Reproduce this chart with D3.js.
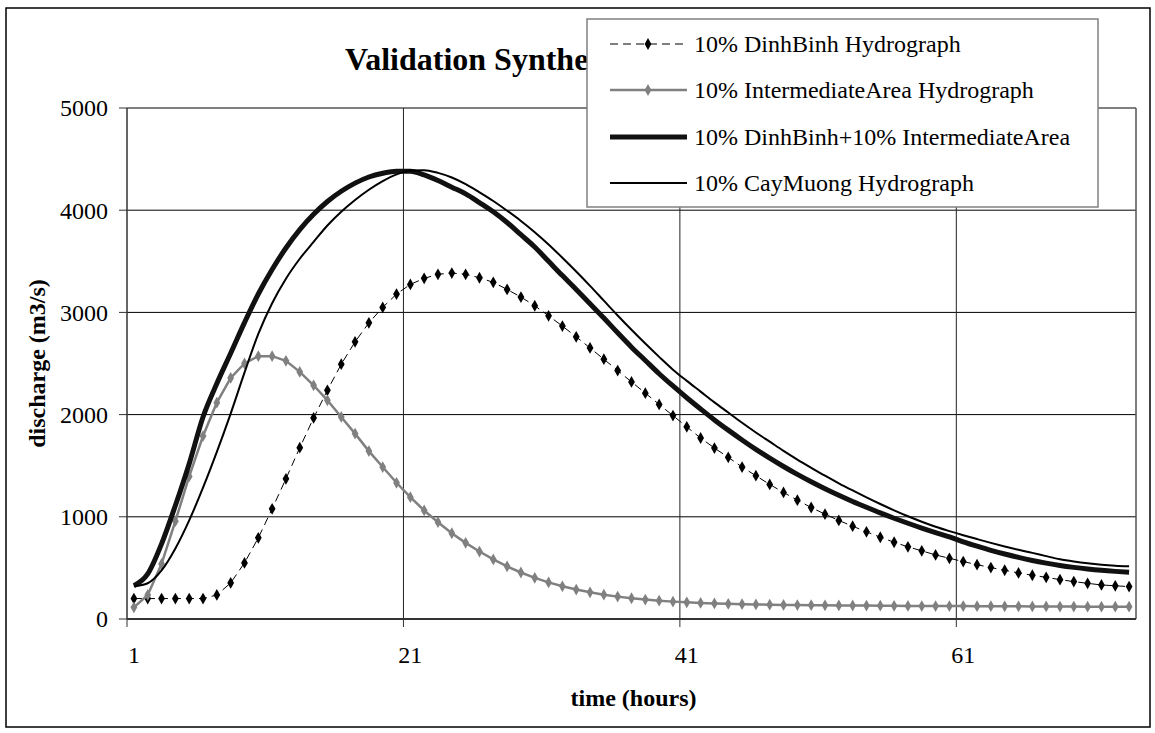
<!DOCTYPE html>
<html>
<head>
<meta charset="utf-8">
<script src="https://d3js.org/d3.v7.min.js"></script>
<style>
  body { margin: 0; background: #fff; }
  text { font-family: "Liberation Serif", "Times New Roman", serif; fill: #000; }
  .tick-label { font-size: 24px; }
  .axis-title { font-size: 24px; font-weight: bold; }
  .legend-text { font-size: 24px; }
</style>
</head>
<body>
<svg id="chart" width="1155" height="733"></svg>
<script>
// hours 1..73 (category axis)
var hours = d3.range(1, 74);

var dinhBinh = [200, 200, 200, 200, 200, 200, 235, 353, 549, 794,
  1078, 1372, 1676, 1967, 2238, 2493, 2712, 2898, 3049, 3179,
  3274, 3333, 3373, 3385, 3373, 3339, 3294, 3225, 3150, 3065,
  2967, 2866, 2761, 2652, 2542, 2431, 2320, 2210, 2100, 1990,
  1880, 1771, 1673, 1582, 1487, 1402, 1317, 1238, 1163, 1091,
  1026, 964, 908, 853, 800, 751, 706, 667, 627, 594,
  562, 532, 503, 477, 451, 428, 408, 385, 366, 349,
  333, 325, 317];

var intermediate = [114, 235, 539, 957, 1395, 1790, 2117, 2359, 2500, 2572,
  2572, 2526, 2418, 2287, 2140, 1977, 1814, 1643, 1487, 1333,
  1192, 1062, 947, 839, 745, 660, 583, 515, 455, 403,
  358, 320, 288, 261, 238, 219, 203, 190, 179, 170,
  163, 157, 152, 148, 145, 142, 140, 138, 136, 135,
  134, 133, 132, 131, 130, 129, 128, 127, 127, 126,
  126, 125, 125, 124, 124, 123, 123, 122, 122, 121,
  121, 120, 120];

var combined = [326, 441, 735, 1111, 1520, 1977, 2304, 2600, 2900, 3180,
  3420, 3630, 3810, 3960, 4085, 4185, 4265, 4325, 4362, 4382,
  4380, 4345, 4290, 4225, 4160, 4075, 3985, 3880, 3760, 3640,
  3500, 3360, 3225, 3085, 2945, 2800, 2660, 2530, 2400, 2280,
  2165, 2055, 1948, 1848, 1752, 1660, 1574, 1492, 1415, 1343,
  1275, 1211, 1150, 1093, 1038, 986, 937, 890, 846, 804,
  755, 712, 672, 636, 603, 573, 547, 524, 505, 489,
  476, 466, 458];

var cayMuong = [320, 350, 475, 690, 965, 1285, 1635, 2010, 2410, 2790,
  3090, 3330, 3525, 3690, 3850, 3985, 4100, 4200, 4285, 4350,
  4388, 4392, 4365, 4320, 4255, 4175, 4090, 3995, 3895, 3785,
  3665, 3535, 3400, 3260, 3115, 2970, 2830, 2695, 2565, 2440,
  2330, 2225, 2120, 2020, 1920, 1825, 1735, 1645, 1560, 1480,
  1402, 1328, 1258, 1190, 1125, 1063, 1005, 952, 903, 860,
  820, 782, 745, 710, 677, 647, 615, 585, 563, 545,
  531, 521, 515];

var xTickLabels = [1, 21, 41, 61];
var yTicks = [0, 1000, 2000, 3000, 4000, 5000];

var seriesNames = ["10% DinhBinh Hydrograph", "10% IntermediateArea Hydrograph",
  "10% DinhBinh+10% IntermediateArea", "10% CayMuong Hydrograph"];

var plot = { left: 127, right: 1136, top: 108, bottom: 619 };

var svg = d3.select("#chart");

svg.append("rect")
    .attr("x", 0).attr("y", 0)
    .attr("width", 1155).attr("height", 733)
    .attr("fill", "#fff");

// chart border
svg.append("rect")
    .attr("x", 6).attr("y", 8)
    .attr("width", 1144).attr("height", 719)
    .attr("fill", "none")
    .attr("stroke", "#000")
    .attr("stroke-width", 1.5);

var x = d3.scaleBand().domain(hours).range([plot.left, plot.right]).padding(0);
var y = d3.scaleLinear().domain([0, 5000]).range([plot.bottom, plot.top]);
var cx = function(h) { return x(h) + x.bandwidth() / 2; };

// horizontal gridlines
svg.append("g").selectAll("line")
    .data(yTicks.filter(d => d > 0))
    .enter().append("line")
    .attr("x1", plot.left).attr("x2", plot.right)
    .attr("y1", d => y(d)).attr("y2", d => y(d))
    .attr("stroke", "#000").attr("stroke-width", 1);

// vertical gridlines
svg.append("g").selectAll("line")
    .data(xTickLabels.filter(d => d > 1))
    .enter().append("line")
    .attr("x1", d => x(d)).attr("x2", d => x(d))
    .attr("y1", plot.top).attr("y2", plot.bottom)
    .attr("stroke", "#222").attr("stroke-width", 1);

// plot area right edge
svg.append("line")
    .attr("x1", plot.right).attr("x2", plot.right)
    .attr("y1", plot.top).attr("y2", plot.bottom)
    .attr("stroke", "#555").attr("stroke-width", 1.5);

// y axis
svg.append("line")
    .attr("x1", plot.left).attr("x2", plot.left)
    .attr("y1", plot.top).attr("y2", plot.bottom)
    .attr("stroke", "#333").attr("stroke-width", 1.5);
svg.append("g").selectAll("line")
    .data(yTicks)
    .enter().append("line")
    .attr("x1", plot.left - 8).attr("x2", plot.left)
    .attr("y1", d => y(d)).attr("y2", d => y(d))
    .attr("stroke", "#333").attr("stroke-width", 1);
svg.append("g").selectAll("text")
    .data(yTicks)
    .enter().append("text")
    .attr("class", "tick-label")
    .attr("x", 108)
    .attr("y", d => y(d))
    .attr("dy", "0.35em")
    .attr("text-anchor", "end")
    .text(d => d);

// x axis
svg.append("line")
    .attr("x1", plot.left).attr("x2", plot.right)
    .attr("y1", plot.bottom).attr("y2", plot.bottom)
    .attr("stroke", "#333").attr("stroke-width", 2);
svg.append("g").selectAll("line")
    .data(xTickLabels)
    .enter().append("line")
    .attr("x1", d => x(d)).attr("x2", d => x(d))
    .attr("y1", plot.bottom).attr("y2", plot.bottom + 8)
    .attr("stroke", "#333").attr("stroke-width", 1);
svg.append("g").selectAll("text")
    .data(xTickLabels)
    .enter().append("text")
    .attr("class", "tick-label")
    .attr("x", d => cx(d))
    .attr("y", 663)
    .attr("text-anchor", "middle")
    .text(d => d);

// axis titles
svg.append("text")
    .attr("class", "axis-title")
    .attr("x", (plot.left + plot.right) / 2 + 2)
    .attr("y", 706)
    .attr("text-anchor", "middle")
    .text("time (hours)");
svg.append("text")
    .attr("class", "axis-title")
    .attr("transform", "translate(45," + ((plot.top + plot.bottom) / 2) + ") rotate(-90)")
    .attr("text-anchor", "middle")
    .text("discharge (m3/s)");

// series
var line = d3.line()
    .x((d, i) => cx(hours[i]))
    .y(d => y(d));

var diamond = d3.symbol().type(d3.symbolDiamond);

svg.append("path")
    .datum(dinhBinh)
    .attr("d", line)
    .attr("fill", "none")
    .attr("stroke", "#000")
    .attr("stroke-width", 1)
    .attr("stroke-dasharray", "8,5");
svg.append("g").selectAll("path")
    .data(dinhBinh)
    .enter().append("path")
    .attr("d", diamond.size(40))
    .attr("transform", (d, i) => "translate(" + cx(hours[i]) + "," + y(d) + ")")
    .attr("fill", "#000");

svg.append("path")
    .datum(intermediate)
    .attr("d", line)
    .attr("fill", "none")
    .attr("stroke", "#808080")
    .attr("stroke-width", 2.5);
svg.append("g").selectAll("path")
    .data(intermediate)
    .enter().append("path")
    .attr("d", diamond.size(40))
    .attr("transform", (d, i) => "translate(" + cx(hours[i]) + "," + y(d) + ")")
    .attr("fill", "#808080");

svg.append("path")
    .datum(combined)
    .attr("d", line.curve(d3.curveMonotoneX))
    .attr("fill", "none")
    .attr("stroke", "#111")
    .attr("stroke-width", 5)
    .attr("stroke-linejoin", "round");

svg.append("path")
    .datum(cayMuong)
    .attr("d", line.curve(d3.curveMonotoneX))
    .attr("fill", "none")
    .attr("stroke", "#000")
    .attr("stroke-width", 2);

// title (partly hidden behind the legend, as in the original)
svg.append("text")
    .attr("x", 345)
    .attr("y", 70)
    .style("font-size", "32px")
    .style("font-weight", "bold")
    .text("Validation Synthetic Hydrographs");

// legend
var legend = svg.append("g");
legend.append("rect")
    .attr("x", 587).attr("y", 19)
    .attr("width", 511).attr("height", 188)
    .attr("fill", "#fff")
    .attr("stroke", "#808080")
    .attr("stroke-width", 1.5);

var rowY = [44, 90, 137, 183];
var styles = [
  { stroke: "#000", width: 1, dash: "8,5", marker: "#000" },
  { stroke: "#808080", width: 2.5, dash: null, marker: "#808080" },
  { stroke: "#111", width: 5, dash: null, marker: null },
  { stroke: "#000", width: 2, dash: null, marker: null }
];

seriesNames.forEach(function(name, i) {
  var s = styles[i];
  legend.append("line")
      .attr("x1", 610).attr("x2", 687)
      .attr("y1", rowY[i]).attr("y2", rowY[i])
      .attr("stroke", s.stroke)
      .attr("stroke-width", s.width)
      .attr("stroke-dasharray", s.dash);
  if (s.marker) {
    legend.append("path")
        .attr("d", diamond.size(40))
        .attr("transform", "translate(648," + rowY[i] + ")")
        .attr("fill", s.marker);
  }
  legend.append("text")
      .attr("class", "legend-text")
      .attr("x", 694)
      .attr("y", rowY[i] + 8)
      .text(name);
});
</script>
</body>
</html>
